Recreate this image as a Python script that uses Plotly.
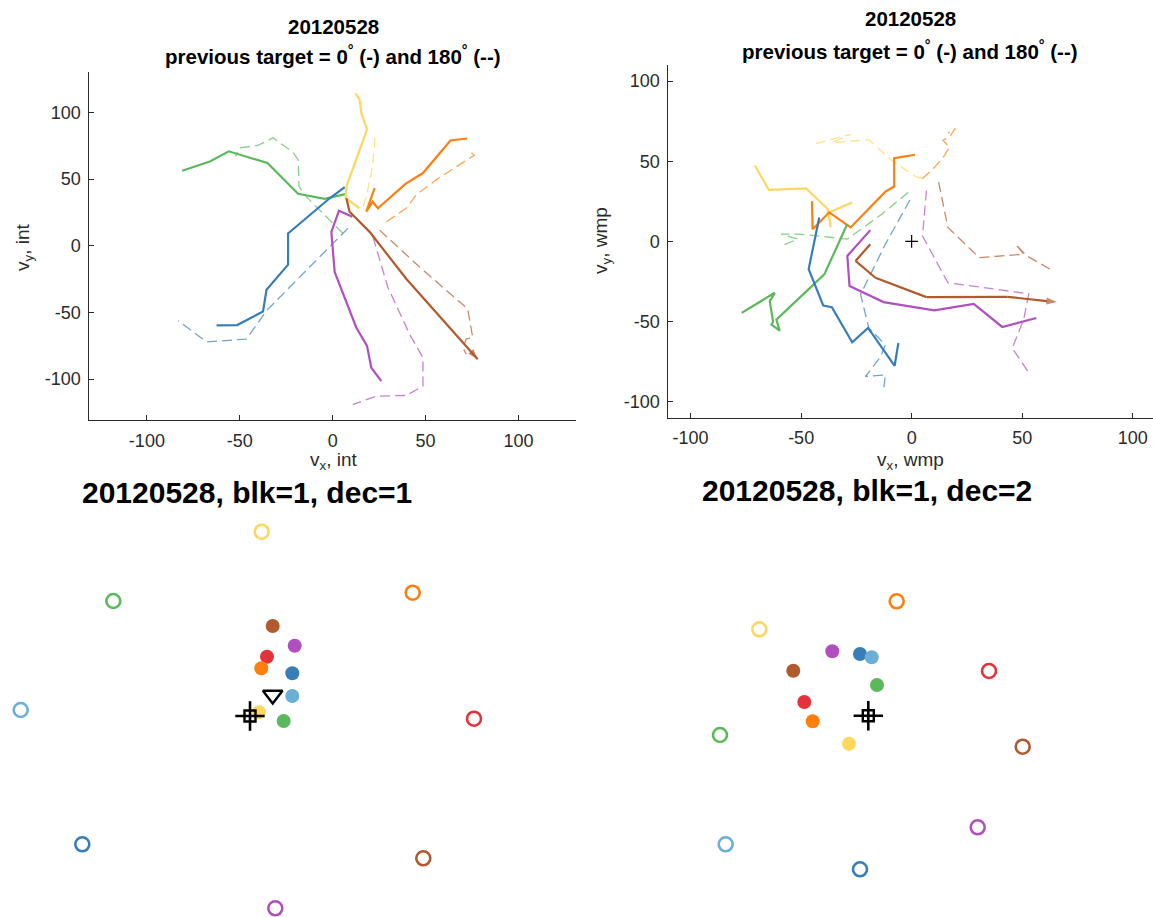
import plotly.graph_objects as go

W, H = 1153, 917

# ---------------- data: top-left (intended velocity, int) ----------------
TL_BLUE_S_X = [6.5, -1.6, -24.0, -24.0, -35.6, -37.5, -51.4, -62.5]
TL_BLUE_S_Y = [43.9, 35.6, 9.2, -14.2, -33.1, -49.4, -59.5, -59.8]
TL_BLUE_D_X = [8.2, -16.0, -35.6, -46.4, -67.9, -83.2]
TL_BLUE_D_Y = [13.0, -21.0, -48.7, -70.0, -72.1, -56.2]
TL_GREEN_S_X = [7.3, -4.3, -18.6, -35.1, -55.9, -66.1, -81.0]
TL_GREEN_S_Y = [38.9, 35.1, 38.9, 62.0, 70.8, 63.2, 56.2]
TL_GREEN_D_X = [5.6, -14.2, -18.1, -18.6, -21.3, -32.1, -40.2, -50.0, -52.2]
TL_GREEN_D_Y = [9.2, 36.8, 44.4, 64.5, 70.0, 80.9, 75.3, 73.3, 67.0]
TL_YELLOW_S_X = [14.5, 7.0, 7.4, 12.7, 18.5, 15.4, 14.5, 12.2]
TL_YELLOW_S_Y = [28.1, 35.6, 44.4, 64.5, 87.2, 99.8, 109.8, 114.3]
TL_YELLOW_D_X = [16.3, 18.1, 20.8, 22.6, 22.6]
TL_YELLOW_D_Y = [29.3, 36.8, 54.5, 74.6, 83.4]
TL_ORANGE_S_X = [22.6, 18.1, 21.5, 24.4, 39.2, 48.6, 63.4, 72.4]
TL_ORANGE_S_Y = [43.2, 25.5, 33.0, 28.1, 46.4, 54.5, 78.9, 80.4]
TL_ORANGE_D_X = [28.9, 39.6, 45.0, 55.7, 73.3, 76.3, 73.7]
TL_ORANGE_D_Y = [18.0, 28.1, 38.1, 49.4, 65.3, 67.8, 70.8]
TL_BROWN_S_X = [7.4, 9.1, 19.9, 39.6, 78.1]
TL_BROWN_S_Y = [35.6, 25.5, 10.4, -24.8, -85.1]
TL_BROWN_D_X = [25.3, 46.8, 72.7, 75.4, 71.9, 70.1, 71.9]
TL_BROWN_D_Y = [11.7, -16.0, -47.4, -68.8, -70.0, -76.4, -81.4]
TL_PURPLE_S_X = [10.6, 3.4, -0.7, 1.1, 12.7, 18.5, 20.8, 26.2]
TL_PURPLE_S_Y = [21.7, 26.3, 10.4, -19.8, -61.3, -75.1, -91.5, -101.5]
TL_PURPLE_D_X = [21.7, 29.7, 41.4, 48.6, 48.6, 39.6, 23.5, 10.9]
TL_PURPLE_D_Y = [6.6, -31.1, -66.3, -83.9, -105.3, -112.3, -112.8, -119.1]

# ---------------- data: top-right (wmp) ----------------
TR_YELLOW_S_X = [-70.9, -64.6, -47.8, -38.0, -36.6, -37.5, -26.9]
TR_YELLOW_S_Y = [47.3, 32.1, 33.1, 20.2, 8.7, 18.0, 24.3]
TR_YELLOW_D_X = [-43.4, -27.6, -36.0, -22.5, -19.4, -9.0, 2.2, 7.5]
TR_YELLOW_D_Y = [60.9, 66.8, 61.5, 63.0, 63.4, 50.5, 40.0, 39.0]
TR_ORANGE_S_X = [-45.1, -44.8, -37.3, -27.6, -11.9, -7.9, -7.9, 1.5]
TR_ORANGE_S_Y = [25.0, 7.6, 18.1, 8.7, 31.0, 34.2, 51.9, 54.0]
TR_ORANGE_D_X = [4.8, 10.4, 14.9, 17.1, 14.2, 17.5, 19.7, 16.5]
TR_ORANGE_D_Y = [39.0, 46.3, 53.6, 58.8, 63.0, 66.0, 70.3, 67.5]
TR_GREEN_S_X = [-76.9, -61.9, -64.2, -62.7, -63.4, -59.7, -61.2, -39.5, -29.1]
TR_GREEN_S_Y = [-44.6, -32.1, -37.3, -50.0, -51.9, -55.7, -48.8, -20.6, 10.8]
TR_GREEN_D_X = [-1.5, -13.4, -29.1, -40.0, -50.7, -59.0, -51.5, -59.0]
TR_GREEN_D_Y = [30.6, 17.1, 1.4, 3.0, 4.5, 4.5, 1.4, -2.8]
TR_BLUE_S_X = [-41.8, -46.6, -40.0, -36.1, -26.9, -19.7, -7.7, -6.0]
TR_BLUE_S_Y = [14.9, -17.4, -40.0, -41.1, -63.0, -54.0, -77.6, -63.4]
TR_BLUE_D_X = [-0.8, -11.9, -23.1, -19.4, -11.9, -14.0, -20.9, -11.9, -12.7]
TR_BLUE_D_Y = [25.8, -1.8, -33.1, -54.0, -64.5, -72.0, -84.3, -83.3, -92.7]
TR_BROWN_S_X = [-18.7, -25.4, -16.4, 6.7, 43.3, 65.7]
TR_BROWN_S_Y = [-1.8, -12.2, -22.7, -34.8, -34.6, -37.9]
TR_BROWN_D_X = [12.2, 16.4, 30.6, 50.7, 47.0, 52.0, 64.1]
TR_BROWN_D_Y = [36.9, 8.7, -10.2, -8.0, -1.8, -9.0, -18.5]
TR_PURPLE_S_X = [-18.7, -29.1, -28.1, -12.7, 10.2, 28.1, 41.0, 56.4]
TR_PURPLE_S_Y = [7.0, -9.1, -27.9, -37.9, -43.1, -39.0, -53.4, -47.8]
TR_PURPLE_D_X = [6.7, 4.9, 16.4, 53.0, 50.7, 45.5, 53.7]
TR_PURPLE_D_Y = [31.7, 3.4, -25.8, -32.7, -48.8, -66.6, -83.3]

# ---------------- data: bottom panels (workspace positions) ----------------
TARGET_NAMES = ["darkblue", "lightblue", "green", "red", "orange", "yellow", "purple", "brown"]
COLORS = {
    "darkblue": "#377eb8", "lightblue": "#6baed6", "green": "#5cb85c", "red": "#e3323a",
    "orange": "#ff7f0e", "yellow": "#ffd75e", "purple": "#b04fbf", "brown": "#b05a2e",
}
BL_TARGET_X = [-175.7, -237.3, -144.7, 216.0, 154.7, 3.7, 17.3, 165.3]
BL_TARGET_Y = [-124.3, 10.0, 119.0, 1.3, 127.3, 188.3, -188.3, -138.3]
BL_DOT_X = [34.3, 34.3, 25.7, 9.0, 3.3, 1.0, 36.7, 14.7]
BL_DOT_Y = [46.7, 24.0, -1.0, 63.3, 51.7, 7.7, 74.3, 94.0]
BL_TRI_X = [14.7]
BL_TRI_Y = [25.0]
BL_CURSOR_X = [-8.0]
BL_CURSOR_Y = [4.0]

BR_TARGET_X = [-9.0, -143.3, -149.0, 120.0, 27.7, -109.7, 108.7, 153.7]
BR_TARGET_Y = [-129.3, -104.3, 5.0, 69.0, 138.7, 110.7, -87.3, -6.7]
BR_DOT_X = [-9.0, 2.7, 8.0, -64.7, -56.3, -20.0, -36.7, -75.7]
BR_DOT_Y = [86.0, 82.7, 55.0, 38.0, 18.7, -3.7, 88.7, 69.3]
BR_CURSOR_X = [-0.7]
BR_CURSOR_Y = [24.3]

TICKS = [-100, -50, 0, 50, 100]
TICK_TEXT = ["-100", "-50", "0", "50", "100"]

FONT = "Liberation Sans, Arial, Helvetica, sans-serif"
AXC = "#2b2b2b"


def px(x):
    return x / W


def py(y):
    return 1 - y / H


fig = go.Figure()


def traj(xs, ys, color, dashed, xa, ya, arrow=False):
    if dashed:
        fig.add_trace(go.Scatter(x=xs, y=ys, mode="lines", xaxis=xa, yaxis=ya,
                                 line=dict(color=color, width=1.3, dash="10px,5px"),
                                 opacity=0.7, showlegend=False, hoverinfo="skip"))
    else:
        if arrow:
            sizes = [0] * (len(xs) - 1) + [11]
            fig.add_trace(go.Scatter(x=xs, y=ys, mode="lines+markers", xaxis=xa, yaxis=ya,
                                     line=dict(color=color, width=2.2),
                                     marker=dict(symbol="arrow", angleref="previous", size=sizes,
                                                 color=color, line=dict(width=0)),
                                     showlegend=False, hoverinfo="skip"))
        else:
            fig.add_trace(go.Scatter(x=xs, y=ys, mode="lines", xaxis=xa, yaxis=ya,
                                     line=dict(color=color, width=2.2),
                                     showlegend=False, hoverinfo="skip"))


# top-left
traj(TL_GREEN_D_X, TL_GREEN_D_Y, COLORS["green"], True, "x", "y")
traj(TL_BLUE_D_X, TL_BLUE_D_Y, COLORS["darkblue"], True, "x", "y")
traj(TL_YELLOW_D_X, TL_YELLOW_D_Y, COLORS["yellow"], True, "x", "y")
traj(TL_ORANGE_D_X, TL_ORANGE_D_Y, COLORS["orange"], True, "x", "y")
traj(TL_BROWN_D_X, TL_BROWN_D_Y, COLORS["brown"], True, "x", "y")
traj(TL_PURPLE_D_X, TL_PURPLE_D_Y, COLORS["purple"], True, "x", "y")
traj(TL_GREEN_S_X, TL_GREEN_S_Y, COLORS["green"], False, "x", "y")
traj(TL_BLUE_S_X, TL_BLUE_S_Y, COLORS["darkblue"], False, "x", "y")
traj(TL_YELLOW_S_X, TL_YELLOW_S_Y, COLORS["yellow"], False, "x", "y")
traj(TL_ORANGE_S_X, TL_ORANGE_S_Y, COLORS["orange"], False, "x", "y")
traj(TL_PURPLE_S_X, TL_PURPLE_S_Y, COLORS["purple"], False, "x", "y")
traj(TL_BROWN_S_X, TL_BROWN_S_Y, COLORS["brown"], False, "x", "y", arrow=True)

# top-right
traj(TR_YELLOW_D_X, TR_YELLOW_D_Y, COLORS["yellow"], True, "x2", "y2")
traj(TR_ORANGE_D_X, TR_ORANGE_D_Y, COLORS["orange"], True, "x2", "y2")
traj(TR_GREEN_D_X, TR_GREEN_D_Y, COLORS["green"], True, "x2", "y2")
traj(TR_BLUE_D_X, TR_BLUE_D_Y, COLORS["darkblue"], True, "x2", "y2")
traj(TR_BROWN_D_X, TR_BROWN_D_Y, COLORS["brown"], True, "x2", "y2")
traj(TR_PURPLE_D_X, TR_PURPLE_D_Y, COLORS["purple"], True, "x2", "y2")
traj(TR_YELLOW_S_X, TR_YELLOW_S_Y, COLORS["yellow"], False, "x2", "y2")
traj(TR_ORANGE_S_X, TR_ORANGE_S_Y, COLORS["orange"], False, "x2", "y2")
traj(TR_GREEN_S_X, TR_GREEN_S_Y, COLORS["green"], False, "x2", "y2")
traj(TR_BLUE_S_X, TR_BLUE_S_Y, COLORS["darkblue"], False, "x2", "y2")
traj(TR_PURPLE_S_X, TR_PURPLE_S_Y, COLORS["purple"], False, "x2", "y2")
traj(TR_BROWN_S_X, TR_BROWN_S_Y, COLORS["brown"], False, "x2", "y2", arrow=True)
fig.add_trace(go.Scatter(x=[0], y=[0], mode="markers", xaxis="x2", yaxis="y2",
                         marker=dict(symbol="cross-thin-open", size=9, color="black",
                                     line=dict(color="black", width=1.2)),
                         showlegend=False, hoverinfo="skip"))

# bottom panels
cols = [COLORS[n] for n in TARGET_NAMES]
for (tx, ty, dx, dy, xa, ya) in [
    (BL_TARGET_X, BL_TARGET_Y, BL_DOT_X, BL_DOT_Y, "x3", "y3"),
    (BR_TARGET_X, BR_TARGET_Y, BR_DOT_X, BR_DOT_Y, "x4", "y4"),
]:
    fig.add_trace(go.Scatter(x=tx, y=ty, mode="markers", xaxis=xa, yaxis=ya,
                             marker=dict(symbol="circle-open", size=14,
                                         color=cols, line=dict(color=cols, width=2.6)),
                             showlegend=False, hoverinfo="skip"))
    fig.add_trace(go.Scatter(x=dx, y=dy, mode="markers", xaxis=xa, yaxis=ya,
                             marker=dict(symbol="circle", size=14, color=cols,
                                         line=dict(width=0)),
                             showlegend=False, hoverinfo="skip"))

fig.add_trace(go.Scatter(x=BL_TRI_X, y=BL_TRI_Y, mode="markers", xaxis="x3", yaxis="y3",
                         marker=dict(symbol="triangle-down-open", size=17, color="black",
                                     line=dict(color="black", width=2.4)),
                         showlegend=False, hoverinfo="skip"))
for (cx, cy, xa, ya) in [(BL_CURSOR_X, BL_CURSOR_Y, "x3", "y3"),
                         (BR_CURSOR_X, BR_CURSOR_Y, "x4", "y4")]:
    fig.add_trace(go.Scatter(x=cx, y=cy, mode="markers", xaxis=xa, yaxis=ya,
                             marker=dict(symbol="square-open", size=11, color="black",
                                         line=dict(color="black", width=2.4)),
                             showlegend=False, hoverinfo="skip"))
    fig.add_trace(go.Scatter(x=cx, y=cy, mode="markers", xaxis=xa, yaxis=ya,
                             marker=dict(symbol="cross-thin-open", size=21, color="black",
                                         line=dict(color="black", width=2.6)),
                             showlegend=False, hoverinfo="skip"))


def vis_axis(domain, rng, anchor):
    return dict(domain=domain, range=rng, anchor=anchor, showline=True, linecolor=AXC,
                linewidth=1, ticks="inside", ticklen=5, tickwidth=1, tickcolor=AXC,
                tickvals=TICKS, ticktext=TICK_TEXT,
                tickfont=dict(family=FONT, size=18, color=AXC),
                showgrid=False, zeroline=False, mirror=False, fixedrange=True,
                ticklabelstandoff=4)


def hid_axis(domain, rng, anchor):
    return dict(domain=domain, range=rng, anchor=anchor, visible=False,
                showgrid=False, zeroline=False, fixedrange=True)


fig.update_layout(
    width=W, height=H, autosize=False,
    margin=dict(l=0, r=0, t=0, b=0),
    paper_bgcolor="white", plot_bgcolor="white",
    font=dict(family=FONT, color="black"),
    xaxis=vis_axis([px(89.3), px(576)], [-131, 131], "y"),
    yaxis=vis_axis([py(420), py(71.7)], [-130.7, 130.5], "x"),
    xaxis2=vis_axis([px(668.3), 1.0], [-110.1, 109.2], "y2"),
    yaxis2=vis_axis([py(417.7), py(65)], [-110, 110], "x2"),
    xaxis3=hid_axis([0, px(560)], [-258, 302], "y3"),
    yaxis3=hid_axis([py(917), py(515)], [-197, 205], "x3"),
    xaxis4=hid_axis([px(580), 1.0], [-289, 284], "y4"),
    yaxis4=hid_axis([py(917), py(515)], [-177, 225], "x4"),
)

annots = [
    ("<b>20120528</b>", 333, 26.7, 20.5, 0),
    ("<b>previous target = 0<sup>°</sup> (-) and 180<sup>°</sup> (--)</b>", 333, 55, 20.5, 0),
    ("<b>20120528</b>", 910, 18.3, 20.5, 0),
    ("<b>previous target = 0<sup>°</sup> (-) and 180<sup>°</sup> (--)</b>", 910, 50, 20.5, 0),
    ("v<sub>x</sub>, int", 334, 461, 19, 0),
    ("v<sub>y</sub>, int", 24, 247, 19, -90),
    ("v<sub>x</sub>, wmp", 910, 461, 19, 0),
    ("v<sub>y</sub>, wmp", 602, 241, 19, -90),
    ("<b>20120528, blk=1, dec=1</b>", 247, 493, 30, 0),
    ("<b>20120528, blk=1, dec=2</b>", 867, 490, 30, 0),
]
for text, x, y, size, ang in annots:
    fig.add_annotation(text=text, x=px(x), y=py(y), xref="paper", yref="paper",
                       xanchor="center", yanchor="middle", showarrow=False,
                       textangle=ang, font=dict(family=FONT, size=size,
                                                color="black" if size != 19 else AXC))

fig.write_html("out.html", config={"displayModeBar": False})
